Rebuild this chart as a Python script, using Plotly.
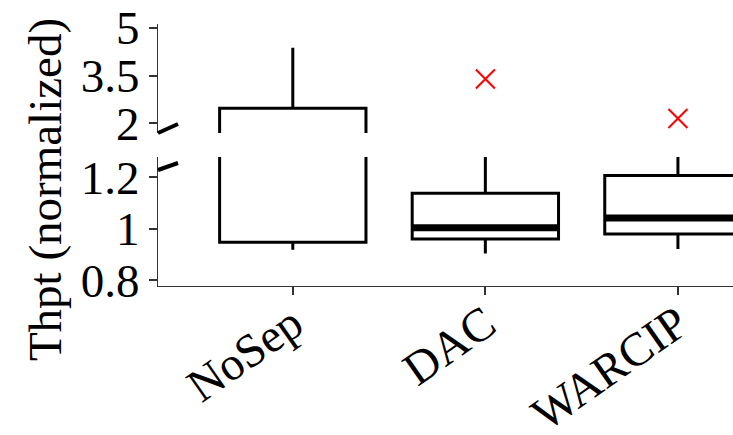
import plotly.graph_objects as go
from plotly.subplots import make_subplots

categories = ["NoSep", "DAC", "WARCIP"]
lower_fence = [0.918, 0.903, 0.921]
q1 = [0.947, 0.960, 0.979]
median = [1.50, 1.003, 1.041]
q3 = [2.47, 1.137, 1.206]
upper_fence = [4.37, 1.32, 1.32]
outlier_cat = [1, 2]
outlier_val = [3.39, 2.15]

upper_ticks = [2, 3.5, 5]
lower_ticks = [0.8, 1, 1.2]

FONT = "Liberation Serif"
BOX_W = 0.76
xs = list(range(len(categories)))

fig = make_subplots(rows=2, cols=1, shared_xaxes=True, vertical_spacing=0.0,
                    row_heights=[0.416, 0.584])

for row in (1, 2):
    fig.add_trace(go.Box(
        x=xs, q1=q1, median=median, q3=q3,
        lowerfence=lower_fence, upperfence=upper_fence,
        boxpoints=False, width=BOX_W, whiskerwidth=0,
        line=dict(color="black", width=3), fillcolor="white",
        showlegend=False, hoverinfo="skip"), row=row, col=1)
    mx, my = [], []
    for i, m in enumerate(median):
        mx += [i - BOX_W / 2, i + BOX_W / 2, None]
        my += [m, m, None]
    fig.add_trace(go.Scatter(x=mx, y=my, mode="lines",
                             line=dict(color="black", width=7),
                             showlegend=False, hoverinfo="skip"), row=row, col=1)

fig.add_trace(go.Scatter(x=outlier_cat, y=outlier_val, mode="markers",
                         marker=dict(symbol="x-thin", size=19, color="red",
                                     line=dict(color="red", width=2)),
                         showlegend=False), row=1, col=1)

axis_common = dict(showgrid=False, zeroline=False, showline=True,
                   linecolor="#333333", linewidth=1, ticks="outside",
                   ticklen=8, tickwidth=2, tickcolor="#333333", automargin=False,
                   tickfont=dict(family=FONT, size=47, color="black"))

fig.update_xaxes(range=[-0.70, 2.286], tickvals=xs, ticktext=categories,
                 tickangle=-35, ticklabelstandoff=-17, **axis_common, row=2, col=1)
fig.update_xaxes(range=[-0.70, 2.286], showticklabels=False, showline=False,
                 ticks="", showgrid=False, zeroline=False, automargin=False,
                 row=1, col=1)

fig.update_yaxes(range=[1.696, 5.116], tickvals=upper_ticks,
                 ticktext=[str(t) for t in upper_ticks], **axis_common, row=1, col=1)
fig.update_yaxes(range=[0.777, 1.278], tickvals=lower_ticks,
                 ticktext=[str(t) for t in lower_ticks], **axis_common, row=2, col=1)

# domains for the broken axis
fig.update_layout(yaxis=dict(domain=[0.584, 1.0]), yaxis2=dict(domain=[0.0, 0.4924]))

# axis break marks
fig.add_shape(type="line", xref="paper", yref="paper",
              x0=0.0, y0=0.584, x1=20 / 575, y1=0.584 + 9 / 262,
              line=dict(color="black", width=4))
fig.add_shape(type="line", xref="paper", yref="paper",
              x0=0.0, y0=0.4924 - 13 / 262, x1=20 / 575, y1=0.4924 - 6 / 262,
              line=dict(color="black", width=4))

fig.add_annotation(text="Thpt (normalized)", xref="paper", yref="paper",
                   x=-0.1965, y=0.366, textangle=-90, showarrow=False,
                   xanchor="center", yanchor="middle",
                   font=dict(family=FONT, size=47, color="black"))

fig.update_layout(width=733, height=435,
                  margin=dict(l=158, r=0, t=24, b=149),
                  paper_bgcolor="white", plot_bgcolor="white",
                  font=dict(family=FONT, color="black"))

fig.write_html("out.html", config={"displayModeBar": False},
               post_script="document.body.style.margin='0';document.body.style.overflow='hidden';")
